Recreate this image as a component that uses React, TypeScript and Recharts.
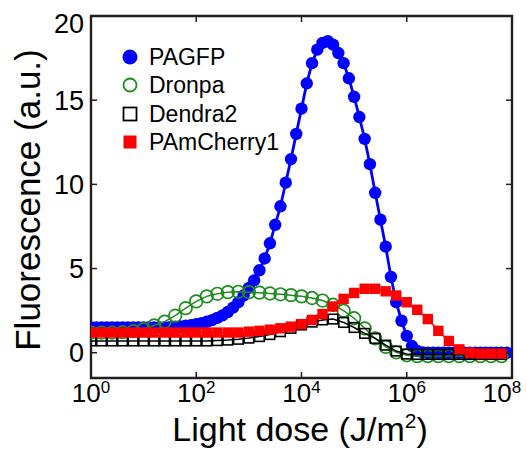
import { ScatterChart, Scatter, XAxis, YAxis, ReferenceArea, Label } from 'recharts';

// dose grid (log10 of J/m^2)
const pagfpLogDose = [
  0, 0.1, 0.2, 0.3, 0.4, 0.5, 0.6, 0.7, 0.8, 0.9,
  1.0, 1.1, 1.2, 1.3, 1.4, 1.5, 1.6, 1.7, 1.8, 1.9,
  2.0, 2.1, 2.2, 2.3, 2.4, 2.5, 2.6, 2.7, 2.8, 2.9,
  3.0, 3.1, 3.2, 3.3, 3.4, 3.5, 3.6, 3.7, 3.8, 3.9,
  4.0, 4.1, 4.2, 4.3, 4.4, 4.5, 4.6, 4.7, 4.8, 4.9,
  5.0, 5.1, 5.2, 5.3, 5.4, 5.5, 5.6, 5.7, 5.8, 5.9,
  6.0, 6.1, 6.2, 6.3, 6.4, 6.5, 6.6, 6.7, 6.8, 6.9,
  7.0, 7.1, 7.2, 7.3, 7.4, 7.5, 7.6, 7.7, 7.8, 7.9,
];
const pagfp = [
  1.5, 1.5, 1.5, 1.5, 1.5, 1.5, 1.5, 1.5, 1.5, 1.5,
  1.5, 1.5, 1.5, 1.5, 1.5, 1.52, 1.54, 1.56, 1.6, 1.64,
  1.7, 1.76, 1.84, 1.94, 2.07, 2.22, 2.42, 2.68, 3.0, 3.4,
  3.85, 4.3, 4.9, 5.6, 6.5, 7.6, 8.7, 10.1, 11.5, 13.0,
  14.5, 16.0, 17.2, 18.0, 18.4, 18.5, 18.3, 17.8, 17.2, 16.3,
  15.2, 14.0, 12.7, 11.2, 9.5, 7.9, 6.3, 4.5, 3.0, 1.9,
  1.0, 0.4, 0.1, 0.02, 0, 0, 0, 0, 0, 0,
  0, 0, 0, 0, 0, 0, 0, 0, 0, 0,
];

const logDose = [
  0, 0.2, 0.4, 0.6, 0.8, 1.0, 1.2, 1.4, 1.6, 1.8,
  2.0, 2.2, 2.4, 2.6, 2.8, 3.0, 3.2, 3.4, 3.6, 3.8,
  4.0, 4.2, 4.4, 4.6, 4.8, 5.0, 5.2, 5.4, 5.6, 5.8,
  6.0, 6.2, 6.4, 6.6, 6.8, 7.0, 7.2, 7.4, 7.6, 7.8,
];
const dronpa = [
  1.2, 1.2, 1.2, 1.22, 1.28, 1.4, 1.62, 1.85, 2.2, 2.65,
  3.05, 3.35, 3.5, 3.6, 3.62, 3.6, 3.57, 3.52, 3.47, 3.42,
  3.35, 3.25, 3.1, 2.85, 2.5, 2.05, 1.45, 0.85, 0.35, 0.02,
  -0.15, -0.2, -0.2, -0.2, -0.2, -0.2, -0.2, -0.2, -0.2, -0.2,
];
const dendra2 = [
  0.7, 0.7, 0.7, 0.7, 0.7, 0.7, 0.7, 0.7, 0.7, 0.7,
  0.7, 0.7, 0.72, 0.75, 0.8, 0.87, 0.96, 1.08, 1.25, 1.45,
  1.65, 1.82, 1.95, 2.0, 1.8, 1.5, 1.15, 0.85, 0.45, 0.1,
  -0.08, -0.1, -0.1, -0.1, -0.1, -0.1, -0.1, -0.1, -0.1, -0.1,
];
const pamcherry1 = [
  1.2, 1.2, 1.2, 1.2, 1.2, 1.2, 1.2, 1.2, 1.2, 1.2,
  1.2, 1.2, 1.2, 1.2, 1.2, 1.25, 1.3, 1.37, 1.45, 1.55,
  1.7, 1.95, 2.3, 2.75, 3.2, 3.55, 3.8, 3.8, 3.65, 3.4,
  3.0, 2.55, 2.0, 1.3, 0.7, 0.2, 0.0, -0.05, -0.05, -0.05,
];

const xTicks = [1, 1e2, 1e4, 1e6, 1e8];
const yTicks = [0, 5, 10, 15, 20];

const toPoints = (logs: number[], vals: number[]) =>
  logs.map((l, i) => ({ x: Math.pow(10, l), y: vals[i] }));

const W = 527;
const H = 452;
const PLOT_LEFT = 91;
const PLOT_RIGHT = 512;
const PLOT_TOP = 16;
const PLOT_BOTTOM = 378;
const FONT = 'Arial, "Liberation Sans", Helvetica, sans-serif';
const FRAME = '#231f20';

const BLUE = '#0000ff';
const GREEN = '#1e8c1e';
const RED = '#ff0000';

const XTick = (props: any) => {
  const { x, payload } = props;
  const exp = Math.round(Math.log10(payload.value));
  const tx = exp === 8 ? x - 10 : x;
  return (
    <g>
      <line x1={x} x2={x} y1={PLOT_BOTTOM} y2={PLOT_BOTTOM - 6} stroke={FRAME} strokeWidth={1.5} />
      <line x1={x} x2={x} y1={PLOT_TOP} y2={PLOT_TOP + 6} stroke={FRAME} strokeWidth={1.5} />
      <text x={tx} y={402} textAnchor="middle" fontSize={26} fontFamily={FONT} fill="#000">
        10<tspan dy={-9} fontSize={17}>{exp}</tspan>
      </text>
    </g>
  );
};

const YTick = (props: any) => {
  const { y, payload } = props;
  const shift = payload.value === 20 ? 7 : 0;
  return (
    <g>
      <line x1={PLOT_LEFT} x2={PLOT_LEFT + 6} y1={y} y2={y} stroke={FRAME} strokeWidth={1.5} />
      <line x1={PLOT_RIGHT} x2={PLOT_RIGHT - 6} y1={y} y2={y} stroke={FRAME} strokeWidth={1.5} />
      <text x={84} y={y + 9.5 + shift} textAnchor="end" fontSize={27} fontFamily={FONT} fill="#000">
        {payload.value}
      </text>
    </g>
  );
};

const filledCircle = (p: any) => <circle cx={p.cx} cy={p.cy} r={6.2} fill={BLUE} />;
const openCircle = (p: any) => (
  <circle cx={p.cx} cy={p.cy} r={6.3} fill="none" stroke={GREEN} strokeWidth={1.7} />
);
const openSquare = (p: any) => (
  <rect x={p.cx - 4.8} y={p.cy - 4.8} width={9.6} height={9.6} fill="none" stroke="#000" strokeWidth={1.6} />
);
const filledSquare = (p: any) => (
  <rect x={p.cx - 5.2} y={p.cy - 5.2} width={10.4} height={10.4} fill={RED} />
);

const legendItems = [
  { name: 'PAGFP', icon: <circle cx={10} cy={10} r={7.5} fill={BLUE} /> },
  { name: 'Dronpa', icon: <circle cx={10} cy={10} r={6.5} fill="none" stroke={GREEN} strokeWidth={1.8} /> },
  { name: 'Dendra2', icon: <rect x={3.5} y={3.5} width={13} height={13} fill="none" stroke="#000" strokeWidth={1.8} /> },
  { name: 'PAmCherry1', icon: <rect x={3.5} y={3.5} width={13} height={13} fill={RED} /> },
];

export default function App() {
  return (
    <div style={{ position: 'absolute', left: 0, top: 0, width: W, height: H, background: '#fff' }}>
      <ScatterChart width={W} height={H} margin={{ top: PLOT_TOP, right: W - PLOT_RIGHT, bottom: 0, left: 0 }}>
        <XAxis
          type="number"
          dataKey="x"
          scale="log"
          domain={[1, 1e8]}
          ticks={xTicks}
          interval={0}
          height={H - PLOT_BOTTOM}
          tick={<XTick />}
          tickLine={false}
          axisLine={false}
          allowDataOverflow
        >
          <Label
            content={() => (
              <text x={300} y={441} textAnchor="middle" fontSize={34} fontFamily={FONT} fill="#000">
                Light dose (J/m<tspan dy={-13} fontSize={21}>2</tspan>
                <tspan dy={13}>)</tspan>
              </text>
            )}
          />
        </XAxis>
        <YAxis
          type="number"
          dataKey="y"
          domain={[-1.5, 20]}
          ticks={yTicks}
          interval={0}
          width={PLOT_LEFT}
          tick={<YTick />}
          tickLine={false}
          axisLine={false}
          allowDataOverflow
        >
          <Label
            content={() => (
              <text
                x={40}
                y={200}
                transform="rotate(-90 40 200)"
                textAnchor="middle"
                fontSize={35}
                fontFamily={FONT}
                fill="#000"
              >
                Fluorescence (a.u.)
              </text>
            )}
          />
        </YAxis>
        <Scatter
          name="PAGFP"
          data={toPoints(pagfpLogDose, pagfp)}
          line={{ stroke: BLUE, strokeWidth: 2.8 }}
          lineType="joint"
          shape={filledCircle}
          isAnimationActive={false}
        />
        <Scatter
          name="Dronpa"
          data={toPoints(logDose, dronpa)}
          line={{ stroke: GREEN, strokeWidth: 1.5 }}
          lineType="joint"
          shape={openCircle}
          isAnimationActive={false}
        />
        <Scatter
          name="Dendra2"
          data={toPoints(logDose, dendra2)}
          line={{ stroke: '#000', strokeWidth: 1.5 }}
          lineType="joint"
          shape={openSquare}
          isAnimationActive={false}
        />
        <Scatter
          name="PAmCherry1"
          data={toPoints(logDose, pamcherry1)}
          line={{ stroke: RED, strokeWidth: 1.5 }}
          lineType="joint"
          shape={filledSquare}
          isAnimationActive={false}
        />
        <ReferenceArea
          x1={1}
          x2={1e8}
          y1={-1.5}
          y2={20}
          fill="none"
          fillOpacity={0}
          stroke={FRAME}
          strokeWidth={2.4}
          ifOverflow="visible"
        />
      </ScatterChart>
      <div style={{ position: 'absolute', left: 120, top: 43, fontFamily: FONT, fontSize: 23, color: '#000' }}>
        {legendItems.map((item) => (
          <div key={item.name} style={{ display: 'flex', alignItems: 'center', height: 28.3 }}>
            <svg width={20} height={20} style={{ marginRight: 9 }}>
              {item.icon}
            </svg>
            <span style={{ lineHeight: '28px' }}>{item.name}</span>
          </div>
        ))}
      </div>
    </div>
  );
}
